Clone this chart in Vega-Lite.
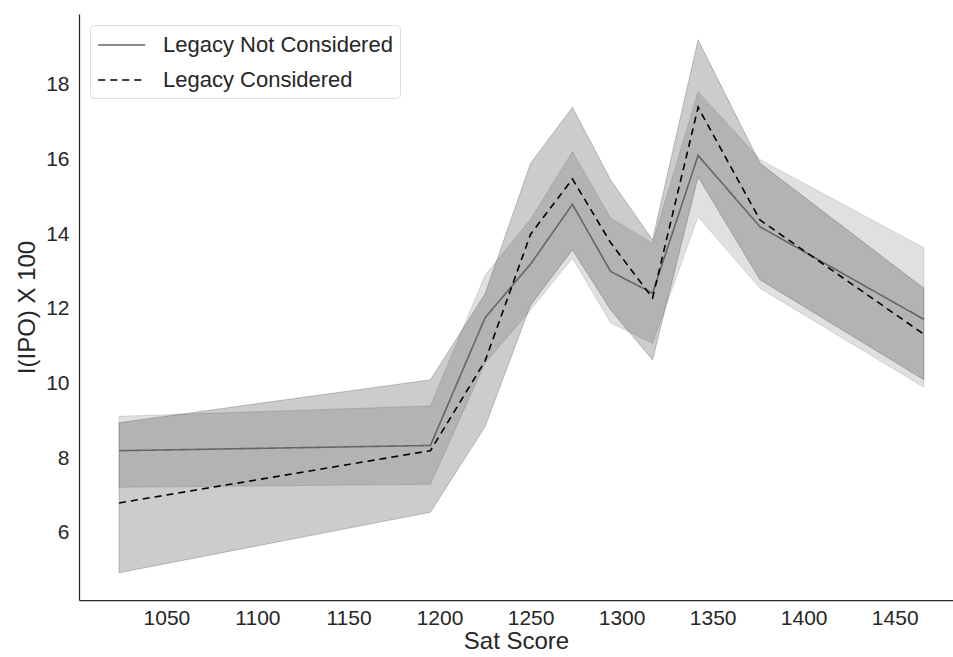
{
  "$schema": "https://vega.github.io/schema/vega-lite/v6.json",
  "width": 874,
  "height": 586,
  "autosize": {"type": "none"},
  "padding": {"left": 79, "top": 14, "right": 0, "bottom": 57},
  "background": "white",
  "data": {
    "values": [
      {"sat": 1024, "series": "Legacy Not Considered", "mean": 8.20, "lo": 7.22, "hi": 9.12},
      {"sat": 1195, "series": "Legacy Not Considered", "mean": 8.34, "lo": 7.30, "hi": 9.40},
      {"sat": 1225, "series": "Legacy Not Considered", "mean": 11.76, "lo": 10.55, "hi": 12.90},
      {"sat": 1250, "series": "Legacy Not Considered", "mean": 13.20, "lo": 11.97, "hi": 14.40},
      {"sat": 1273, "series": "Legacy Not Considered", "mean": 14.80, "lo": 13.36, "hi": 16.21},
      {"sat": 1294, "series": "Legacy Not Considered", "mean": 13.00, "lo": 11.62, "hi": 14.43},
      {"sat": 1317, "series": "Legacy Not Considered", "mean": 12.42, "lo": 11.08, "hi": 13.76},
      {"sat": 1342, "series": "Legacy Not Considered", "mean": 16.11, "lo": 14.47, "hi": 17.82},
      {"sat": 1376, "series": "Legacy Not Considered", "mean": 14.20, "lo": 12.55, "hi": 16.00},
      {"sat": 1466, "series": "Legacy Not Considered", "mean": 11.72, "lo": 9.90, "hi": 13.64},
      {"sat": 1024, "series": "Legacy Considered", "mean": 6.80, "lo": 4.93, "hi": 8.95},
      {"sat": 1195, "series": "Legacy Considered", "mean": 8.20, "lo": 6.55, "hi": 10.10},
      {"sat": 1225, "series": "Legacy Considered", "mean": 10.60, "lo": 8.84, "hi": 12.40},
      {"sat": 1250, "series": "Legacy Considered", "mean": 14.00, "lo": 12.10, "hi": 15.90},
      {"sat": 1273, "series": "Legacy Considered", "mean": 15.48, "lo": 13.58, "hi": 17.40},
      {"sat": 1294, "series": "Legacy Considered", "mean": 13.77, "lo": 11.97, "hi": 15.45},
      {"sat": 1317, "series": "Legacy Considered", "mean": 12.29, "lo": 10.63, "hi": 13.85},
      {"sat": 1342, "series": "Legacy Considered", "mean": 17.40, "lo": 15.54, "hi": 19.21},
      {"sat": 1376, "series": "Legacy Considered", "mean": 14.38, "lo": 12.78, "hi": 15.90},
      {"sat": 1466, "series": "Legacy Considered", "mean": 11.32, "lo": 10.10, "hi": 12.55}
    ]
  },
  "encoding": {
    "x": {
      "field": "sat", "type": "quantitative",
      "scale": {"domain": [1002, 1482], "nice": false, "zero": false},
      "axis": {"title": "Sat Score", "format": "d", "values": [1050, 1100, 1150, 1200, 1250, 1300, 1350, 1400, 1450], "labelPadding": 7, "titlePadding": 1}
    }
  },
  "layer": [
    {
      "transform": [{"filter": "datum.series === 'Legacy Not Considered'"}],
      "mark": {"type": "area", "fill": "#666666", "fillOpacity": 0.2, "stroke": "#666666", "strokeOpacity": 0.2, "strokeWidth": 1},
      "encoding": {
        "y": {"field": "lo", "type": "quantitative", "scale": {"domain": [4.2, 19.9], "nice": false, "zero": false}},
        "y2": {"field": "hi"}
      }
    },
    {
      "transform": [{"filter": "datum.series === 'Legacy Considered'"}],
      "mark": {"type": "area", "fill": "#000000", "fillOpacity": 0.2, "stroke": "#000000", "strokeOpacity": 0.2, "strokeWidth": 1},
      "encoding": {
        "y": {"field": "lo", "type": "quantitative"},
        "y2": {"field": "hi"}
      }
    },
    {
      "mark": {"type": "line", "strokeWidth": 1.6},
      "encoding": {
        "y": {
          "field": "mean", "type": "quantitative",
          "axis": {"title": "I(IPO) X 100", "values": [6, 8, 10, 12, 14, 16, 18], "labelPadding": 10, "titlePadding": 6}
        },
        "stroke": {
          "field": "series", "type": "nominal", "title": null,
          "scale": {"domain": ["Legacy Not Considered", "Legacy Considered"], "range": ["#666666", "#000000"]},
          "legend": {"labelExpr": "datum.label + '\u00a0\u00a0\u00a0'"}
        },
        "strokeDash": {
          "field": "series", "type": "nominal", "title": null,
          "scale": {"domain": ["Legacy Not Considered", "Legacy Considered"], "range": [[1, 0], [7, 5]]},
          "legend": {"labelExpr": "datum.label + '\u00a0\u00a0\u00a0'"}
        }
      }
    }
  ],
  "config": {
    "view": {"stroke": null},
    "font": "Liberation Sans",
    "axis": {
      "grid": false, "ticks": false, "tickSize": 0,
      "domainColor": "#262626", "domainWidth": 1.25,
      "labelFont": "Liberation Sans", "labelFontSize": 21, "labelColor": "#262626",
      "titleFont": "Liberation Sans", "titleFontSize": 24, "titleFontWeight": "normal", "titleColor": "#262626"
    },
    "legend": {
      "orient": "top-left", "offset": 11,
      "padding": 7, "strokeColor": "#dddddd", "fillColor": "white", "cornerRadius": 4,
      "labelFont": "Liberation Sans", "labelFontSize": 22, "labelColor": "#262626",
      "symbolType": "M -1 0 L 3 0", "symbolSize": 552, "symbolStrokeWidth": 1.6,
      "labelOffset": 40, "rowPadding": 11, "labelLimit": 400
    }
  }
}
